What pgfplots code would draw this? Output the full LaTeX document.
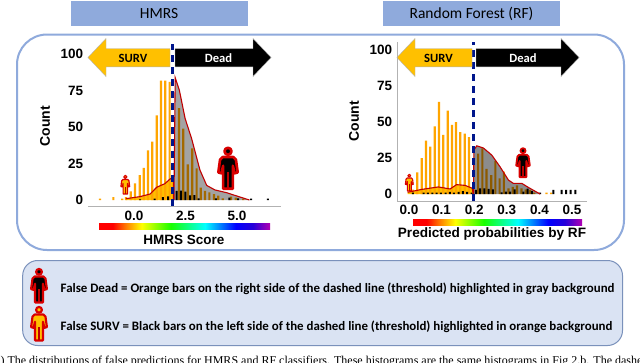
\documentclass[border=0pt]{standalone}
\usepackage{fontspec}
\usepackage{pgfplots}
\pgfplotsset{compat=1.18}
\setmainfont{Liberation Sans}
\newfontfamily\calibri{Carlito}
\newfontfamily\capfont{Liberation Serif}

\definecolor{panelblue}{HTML}{8FAADC}
\definecolor{boxfill}{HTML}{DAE3F3}
\definecolor{survyellow}{HTML}{FFC000}
\definecolor{barorange}{HTML}{FFA500}
\definecolor{linered}{HTML}{C00000}
\definecolor{threshblue}{HTML}{00168C}

% tikz maps the shaded rectangle onto the middle 25bp..75bp of a shading
\pgfdeclarehorizontalshading{rainbow}{100bp}{
  color(0bp)=(red); color(29bp)=(red); color(33bp)=(orange); color(37.5bp)=(yellow);
  color(46bp)=(green!90!yellow); color(56bp)=(cyan); color(65bp)=(blue);
  color(70bp)=(blue!70!violet); color(75bp)=(violet!60!magenta); color(100bp)=(violet!60!magenta)}

% cx, top, height, inner colour
\newcommand{\person}[4]{%
  \begin{scope}[shift={(#1,#2)},x=#3pt,y=-#3pt]
    \fill[#4,draw=red!85!black,line width=.06*#3pt,line join=round]
      (0,.12) circle[radius=.08];
    \fill[#4,draw=red!85!black,line width=.06*#3pt,line join=round]
      (-.12,.25) -- (.12,.25) -- (.18,.31) -- (.22,.6) -- (.15,.62) -- (.11,.45)
      -- (.11,.97) -- (-.11,.97) -- (-.11,.45) -- (-.15,.62) -- (-.22,.6) -- (-.18,.31) -- cycle;
    \fill[red!75!black] (-.02,.6) rectangle (.02,.97);
  \end{scope}}

\newcommand{\leftarrowbox}[3]{% tip, head base, right end
  \fill[survyellow,draw=black!30,line width=.4pt]
    (#1,57.5) -- (#2,38.5) -- (#2,48.5) -- (#3,48.5) -- (#3,66.8) -- (#2,66.8) -- (#2,76.5) -- cycle;}
\newcommand{\rightarrowbox}[3]{% left end, head base, tip
  \fill[black,draw=black!30,line width=.4pt]
    (#3,57.5) -- (#2,38.5) -- (#2,48.5) -- (#1,48.5) -- (#1,66.8) -- (#2,66.8) -- (#2,76.5) -- cycle;}

\pgfplotsset{
  hist/.style={
    anchor=south west, scale only axis,
    clip=false,
    axis x line*=bottom, axis y line*=left,
    tick style={draw=none},
    tick align=outside,
    ticklabel style={font=\fontsize{13.5}{14}\selectfont\bfseries},
    yticklabel style={xshift=3pt},
    ytick={0,25,50,75,100}, yticklabels={0,25,50,75,100},
    x axis line style={draw=black!30,line width=1pt,-},
  },
  obar/.style={ybar,bar width=2.2pt,fill=barorange,draw=none},
  kbar/.style={ybar,bar width=2pt,fill=black,draw=none},
  redcurve/.style={linered,line width=1.1pt,no markers},
  thresh/.style={threshblue,line width=2.5pt,dash pattern=on 7pt off 5pt},
}

\begin{document}
\begin{tikzpicture}[x=1pt,y=-1pt]
\path[use as bounding box,clip] (0,0) rectangle (640,362);
\fill[white] (0,0) rectangle (640,362);

% header boxes and outer frame
\fill[panelblue] (71,1) rectangle (247.5,26);
\fill[panelblue] (383,1) rectangle (560,26);
\node[font=\calibri\fontsize{15.5}{16}\selectfont] at (159,14) {HMRS};
\node[font=\calibri\fontsize{15.5}{16}\selectfont] at (471.5,14) {Random Forest (RF)};
\draw[panelblue,line width=2pt,rounded corners=30pt] (17,34.5) rectangle (624,250);

% HMRS panel
\begin{axis}[hist, at={(88pt,-206pt)}, width=193pt, height=166pt,
  xmin=-2.233, xmax=7.136, ymin=-4.12, ymax=109.8,
  y axis line style={draw=none},
  xticklabel style={yshift=3pt},
  xtick={0,2.5,5}, xticklabels={0.0,2.5,5.0}]
\addplot[fill=survyellow,draw=none] coordinates {
  (-0.39,0) (-0.39,0.9) (0.29,2.3) (0.78,4.1) (1.10,8.7) (1.30,10) (1.50,11.2) (1.75,14.4) (1.91,15.4) (1.91,0)} \closedcycle;
\addplot[obar] coordinates {
  (-1.65,1) (-1.0,2) (-0.57,1) (-0.39,2) (-0.16,6) (0.05,11.4) (0.28,17) (0.47,22)
  (0.68,34) (0.89,40) (1.10,58) (1.31,82) (1.52,82) (1.73,81)
  (2.18,63) (2.39,49) (2.61,24.5) (2.83,35.5) (3.04,21.7) (3.24,8.5) (3.45,6.2)
  (3.66,5.3) (3.88,4) (4.09,3) (4.31,1.1) (4.71,2.3) (4.94,1.6) (5.3,0.7)};
\addplot[fill=black,fill opacity=.36,draw=none] coordinates {
  (1.94,0) (2.0,84) (2.2,75.5) (2.48,56) (2.80,42) (3.2,20.6) (3.53,10) (3.93,6.9)
  (4.5,5) (4.99,2.75) (5.6,0)} \closedcycle;
\addplot[kbar] coordinates {
  (0.3,0.5) (1.0,1) (1.4,2) (1.66,2.5) (2.07,6.2) (2.28,6.4) (2.49,5.7) (2.72,3.2) (2.93,3.4)
  (3.14,1.1) (3.98,1.1) (4.63,1.6) (5.06,1.1) (5.68,1) (6.5,1)};
\addplot[redcurve] coordinates {
  (-0.39,0.9) (0.29,2.3) (0.78,4.1) (1.10,8.7) (1.30,10) (1.50,11.2) (1.75,14.4) (1.91,15.4) (1.91,0)};
\addplot[redcurve] coordinates {
  (1.94,0) (2.0,84) (2.2,75.5) (2.48,56) (2.80,42) (3.2,20.6) (3.53,10) (3.93,6.9)
  (4.5,5) (4.99,2.75) (5.6,0)};
\addplot[thresh] coordinates {(1.88,-4.12) (1.88,107)};
\end{axis}

% RF panel
\begin{axis}[hist, at={(397pt,-201pt)}, width=190pt, height=159pt,
  xmin=-0.0368, xmax=0.546, ymin=-4.86, ymax=105.6,
  y axis line style={draw=black!30,line width=1pt,-},
  xticklabel style={yshift=4pt},
  xtick={0,0.1,0.2,0.3,0.4,0.5}, xticklabels={0.0,0.1,0.2,0.3,0.4,0.5}]
\addplot[fill=survyellow,draw=none] coordinates {
  (-0.004,0) (-0.004,1.2) (0.039,3.2) (0.09,4.9) (0.126,3.5) (0.146,6.5) (0.172,6) (0.194,4) (0.197,0)} \closedcycle;
\addplot[obar] coordinates {
  (0.012,3) (0.0256,15) (0.039,25) (0.052,37) (0.065,33) (0.079,47) (0.092,64) (0.105,41)
  (0.119,58) (0.132,48) (0.144,50) (0.157,43) (0.171,42) (0.184,39.5)
  (0.212,28) (0.225,31.7) (0.238,17.4) (0.252,13.2) (0.265,23) (0.278,10.9) (0.291,15.5)
  (0.305,3.9) (0.318,5) (0.331,6) (0.345,3.9) (0.358,3.2) (0.371,2.8) (0.384,1)
  (0.422,1) (0.436,1)};
\addplot[fill=black,fill opacity=.45,draw=none] coordinates {
  (0.198,0) (0.199,30.5) (0.208,33.5) (0.228,32) (0.254,27) (0.279,19) (0.305,9.7)
  (0.32,7.4) (0.346,7.4) (0.366,4.6) (0.402,0)} \closedcycle;
\addplot[kbar] coordinates {
  (0.012,1) (0.045,1) (0.058,1) (0.072,1) (0.085,1) (0.098,1) (0.112,1) (0.125,1.5)
  (0.138,1) (0.152,1.5) (0.165,2) (0.178,1.5) (0.192,1)
  (0.205,2.8) (0.218,3.9) (0.231,3.9) (0.244,3.5) (0.257,3.2) (0.284,1.2) (0.297,1.6)
  (0.31,1.6) (0.324,3.2) (0.351,1.6) (0.364,3.7) (0.377,2) (0.402,1)
  (0.443,2.8) (0.468,2.8) (0.482,2.8) (0.496,2.8) (0.51,2.8)};
\addplot[redcurve] coordinates {
  (-0.004,1.2) (0.039,3.2) (0.09,4.9) (0.126,3.5) (0.146,6.5) (0.172,6) (0.194,4) (0.197,0)};
\addplot[redcurve] coordinates {
  (0.198,0) (0.199,30.5) (0.208,33.5) (0.228,32) (0.254,27) (0.279,19) (0.305,9.7)
  (0.32,7.4) (0.346,7.4) (0.366,4.6) (0.402,0)};
\addplot[thresh] coordinates {(0.198,-4.86) (0.198,105.6)};
\end{axis}

% direction arrows
\leftarrowbox{88}{106}{170}
\rightarrowbox{175}{253}{271}
\leftarrowbox{397}{415}{472}
\rightarrowbox{476}{561}{579}
\node[font=\calibri\bfseries\fontsize{12.6}{13}\selectfont] at (133,58) {SURV};
\node[font=\calibri\bfseries\fontsize{12.6}{13}\selectfont,white] at (218.5,58) {Dead};
\node[font=\calibri\bfseries\fontsize{12.6}{13}\selectfont] at (438.5,58.5) {SURV};
\node[font=\calibri\bfseries\fontsize{12.6}{13}\selectfont,white] at (523,58.5) {Dead};

% colour scales and axis titles
\shade[shading=rainbow] (99,223) rectangle (270,229);
\shade[shading=rainbow] (413,219) rectangle (582,225);
\node[font=\fontsize{13.5}{14}\selectfont\bfseries] at (184,240) {HMRS Score};
\node[font=\fontsize{13.6}{14}\selectfont\bfseries] at (492,233.5) {Predicted probabilities by RF};
\node[font=\fontsize{14}{14}\selectfont\bfseries,rotate=90] at (45,126) {Count};
\node[font=\fontsize{14}{14}\selectfont\bfseries,rotate=90] at (354,121) {Count};

% people
\person{228}{146}{44}{black}
\person{125.3}{174.5}{20}{survyellow}
\person{523}{147}{31}{black}
\person{409.3}{173.5}{18}{survyellow}

% key box
\draw[panelblue!85!black,fill=boxfill,line width=1pt,rounded corners=15pt] (22.7,260.5) rectangle (622.5,345.5);
\person{39}{267.5}{36}{black}
\person{39}{305.5}{36}{survyellow}
\node[font=\calibri\bfseries\fontsize{12.9}{13}\selectfont,anchor=west,inner sep=0pt] at (60.5,289)
  {False Dead = Orange bars on the right side of the dashed line (threshold) highlighted in gray background};
\node[font=\calibri\bfseries\fontsize{12.9}{13}\selectfont,anchor=west,inner sep=0pt] at (60.5,326.5)
  {False SURV = Black bars on the left side of the dashed line (threshold) highlighted in orange background};

% caption, cut off by the page edge
\node[font=\capfont\fontsize{12}{13}\selectfont,anchor=base west,inner sep=0pt] at (-9,364.5)
  {(a) The distributions of false predictions for HMRS and RF classifiers. These histograms are the same histograms in Fig 2.b. The dashed};
\end{tikzpicture}
\end{document}
